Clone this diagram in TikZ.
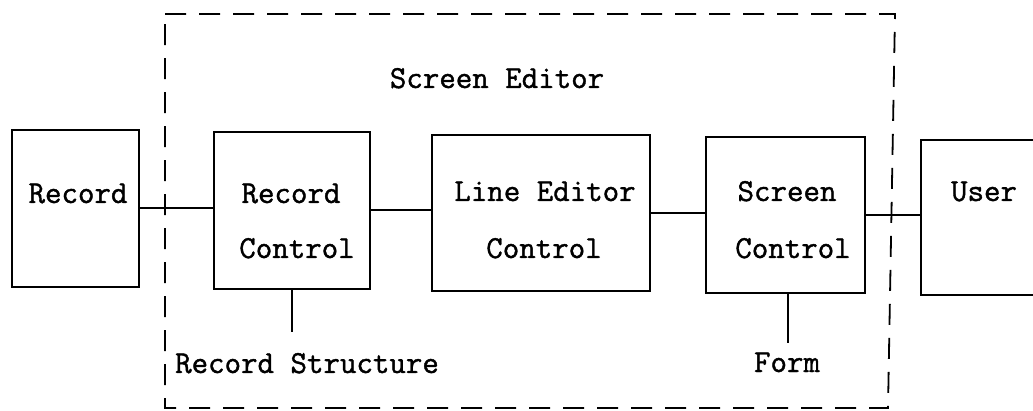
\documentclass[tikz,border=0pt]{standalone}
\usepackage{fontspec}
\setmonofont{Latin Modern Mono}[FakeBold=1.2]
\begin{document}
\begin{tikzpicture}[x=1pt,y=-1pt,
  box/.style={draw,line width=2pt,inner sep=0pt},
  wire/.style={line width=2pt},
  frame/.style={line width=1.8pt,dash pattern=on 21pt off 13pt},
  lbl/.style={font=\ttfamily\fontsize{32}{32}\selectfont,anchor=base,inner sep=0pt}]
\useasboundingbox (0,0) rectangle (1033,411);
\clip (0,0) rectangle (1033,411);

% module boxes
\node[box,minimum width=127pt,minimum height=157pt] (rec)  at (75.5,208.5) {};
\node[box,minimum width=156pt,minimum height=157pt] (rc)   at (292,210.5) {};
\node[box,minimum width=218pt,minimum height=156pt] (lec)  at (541,213) {};
\node[box,minimum width=159pt,minimum height=156pt] (sc)   at (785.5,215) {};
\node[box,minimum width=129pt,minimum height=155pt] (user) at (985.5,217.5) {};

% box captions
\node[lbl] (recT)  at (78,203)  {Record};
\node[lbl] (rcT1)  at (291,203) {Record};
\node[lbl] (rcT2)  at (297,258) {Control};
\node[lbl] (lecT1) at (545,201) {Line Editor};
\node[lbl] (lecT2) at (544,258) {Control};
\node[lbl] (scT1)  at (787,201) {Screen};
\node[lbl] (scT2)  at (793,258) {Control};
\node[lbl] (userT) at (984,201) {User};

% enclosing screen editor
\coordinate (fA) at (165,14);
\coordinate (fB) at (895,14);
\coordinate (fC) at (888,408);
\coordinate (fD) at (165,408);
\draw[frame] (fA) -- (fB) -- (fC) -- (fD) -- cycle;
\node[lbl] (title) at (497,88) {Screen Editor};

% connections between modules
\draw[wire] (rec.east) -- (rec.east -| rc.west);
\draw[wire] (rc.east) -- (rc.east -| lec.west);
\draw[wire] (lec.east) -- (lec.east -| sc.west);
\draw[wire] (sc.east) -- (sc.east -| user.west);

% data attached below
\coordinate (rsEnd) at (292,332);
\coordinate (fmEnd) at (788,343);
\draw[wire] (rsEnd |- rc.south) -- (rsEnd);
\draw[wire] (fmEnd |- sc.south) -- (fmEnd);
\node[lbl] (rsT) at (307,373) {Record Structure};
\node[lbl] (fmT) at (787,372) {Form};
\end{tikzpicture}
\end{document}
